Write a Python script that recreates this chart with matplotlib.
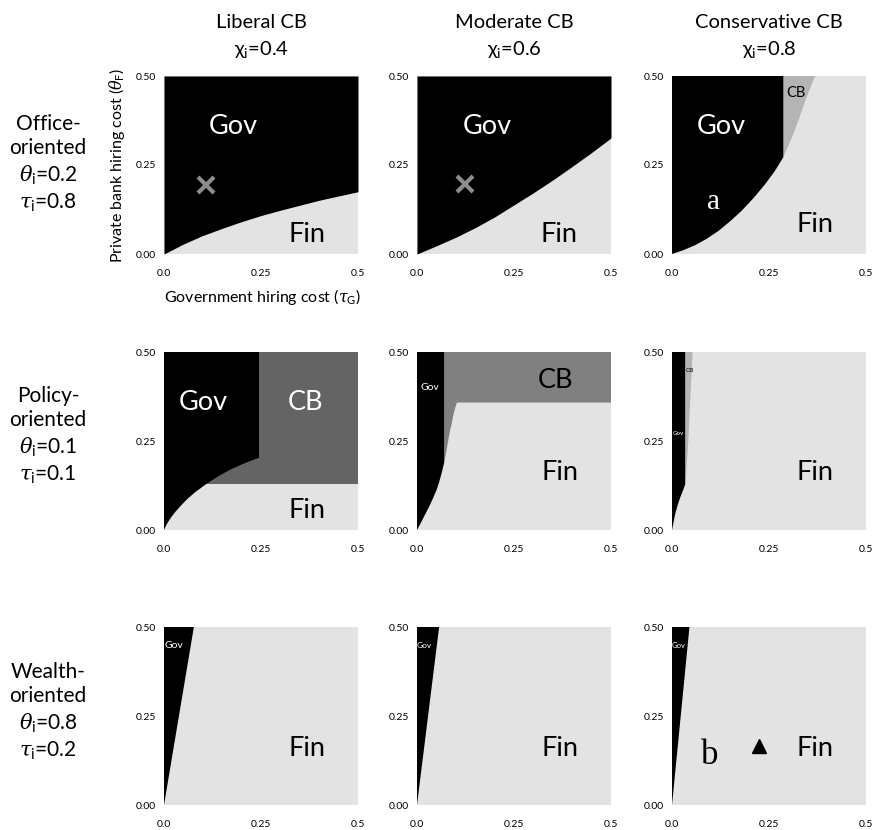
import numpy as np
import matplotlib.pyplot as plt

plt.rcParams['font.family'] = ['Lato', 'DejaVu Sans']
plt.rcParams['mathtext.fontset'] = 'custom'
plt.rcParams['mathtext.rm'] = 'Lato'
plt.rcParams['mathtext.it'] = 'DejaVu Serif:italic'

# column / row descriptors
col_titles = ["Liberal CB", "Moderate CB", "Conservative CB"]
chi_vals = ["0.4", "0.6", "0.8"]
row_names = ["Office-\noriented", "Policy-\noriented", "Wealth-\noriented"]
theta_vals = ["0.2", "0.1", "0.8"]
tau_vals = ["0.8", "0.1", "0.2"]

# boundary curves (tau_G, theta_F)
# row 1: office-oriented
off_lib_x = [0, 0.025, 0.05, 0.1, 0.15, 0.2, 0.25, 0.3, 0.35, 0.4, 0.45, 0.5]
off_lib_y = [0, 0.014, 0.028, 0.052, 0.072, 0.091, 0.108, 0.123, 0.137, 0.151, 0.163, 0.175]
off_mod_x = [0, 0.05, 0.1, 0.15, 0.2, 0.25, 0.3, 0.35, 0.4, 0.45, 0.5]
off_mod_y = [0, 0.023, 0.047, 0.074, 0.104, 0.138, 0.172, 0.208, 0.246, 0.285, 0.326]
off_con_gov_x = [0, 0.03, 0.06, 0.09, 0.12, 0.15, 0.18, 0.21, 0.24, 0.265, 0.287]
off_con_gov_y = [0, 0.011, 0.025, 0.043, 0.065, 0.092, 0.122, 0.157, 0.196, 0.233, 0.272]
off_con_cb_x = [0.287, 0.3, 0.313, 0.325, 0.338, 0.352, 0.369]
off_con_cb_y = [0.272, 0.304, 0.338, 0.373, 0.413, 0.455, 0.5]
# row 2: policy-oriented
pol_lib_gov_x = [0, 0.005, 0.012, 0.02, 0.03, 0.045, 0.06, 0.08, 0.11, 0.14, 0.17, 0.2, 0.225, 0.245]
pol_lib_gov_y = [0, 0.012, 0.025, 0.038, 0.052, 0.07, 0.087, 0.106, 0.13, 0.151, 0.169, 0.184, 0.195, 0.203]
pol_lib_fin_top = 0.13
pol_mod_gov_x = [0, 0.01, 0.021, 0.032, 0.042, 0.051, 0.058, 0.064, 0.07]
pol_mod_gov_y = [0, 0.02, 0.044, 0.067, 0.091, 0.114, 0.138, 0.162, 0.189]
pol_mod_cb_x = [0.07, 0.074, 0.077, 0.081, 0.085, 0.09, 0.094, 0.099, 0.103]
pol_mod_cb_y = [0.189, 0.21, 0.23, 0.254, 0.278, 0.302, 0.325, 0.345, 0.358]
pol_mod_fin_top = 0.358
pol_con_gov_x = [0, 0.004, 0.008, 0.014, 0.021, 0.028, 0.034]
pol_con_gov_y = [0, 0.022, 0.044, 0.068, 0.091, 0.11, 0.128]
pol_con_cb_x = [0.034, 0.038, 0.042, 0.045, 0.048, 0.051, 0.053]
pol_con_cb_y = [0.128, 0.18, 0.25, 0.32, 0.39, 0.45, 0.5]
# row 3: wealth-oriented, Gov wedge reaches these tau_G at the top
wea_gov_top = [0.077, 0.057, 0.045]

# example parameter points
cross_pts = [(0.108, 0.195), (0.124, 0.196)]
tri_pt = (0.225, 0.166)

GOV = 'black'
FIN = '#e3e3e3'
CB_DARK = '#646464'
CB_MID = '#808080'
CB_LIGHT = '#b4b4b4'
MARK = '#8c8c8c'
BIG = 19.5

W, H = 876, 830
fig = plt.figure(figsize=(W / 100, H / 100), dpi=100)

lefts = [164, 417, 672]
tops = [76, 352, 627]
aw, ah = 194, 178


def make_ax(r, c):
    ax = fig.add_axes([lefts[c] / W, (H - tops[r] - ah) / H, aw / W, ah / H])
    ax.set_xlim(0, 0.5)
    ax.set_ylim(0, 0.5)
    ax.set_facecolor(FIN)
    ax.set_xticks([0, 0.25, 0.5])
    ax.set_xticklabels(['0.0', '0.25', '0.5'])
    ax.set_yticks([0, 0.25, 0.5])
    ax.set_yticklabels(['0.00', '0.25', '0.50'])
    ax.tick_params(axis='x', length=0, labelsize=7.5, pad=11)
    ax.tick_params(axis='y', length=0, labelsize=7.5, pad=6)
    for s in ax.spines.values():
        s.set_visible(False)
    return ax


def gov_poly(ax, xs, ys):
    px = list(xs) + [xs[-1], 0]
    py = list(ys) + [0.5, 0.5]
    ax.fill(px, py, color=GOV, lw=0)


def label(ax, x, y, s, size=BIG, color='black', **kw):
    ax.text(x, y, s, fontsize=size, color=color, ha='center', va='center', **kw)


axes = [[make_ax(r, c) for c in range(3)] for r in range(3)]

# --- office-oriented ---
ax = axes[0][0]
ax.fill_between(off_lib_x, off_lib_y, 0.5, color=GOV, lw=0)
ax.plot(*cross_pts[0], marker='x', ms=11, mew=3, color=MARK)
label(ax, 0.178, 0.357, "Gov", color='white')
label(ax, 0.368, 0.056, "Fin")

ax = axes[0][1]
ax.fill_between(off_mod_x, off_mod_y, 0.5, color=GOV, lw=0)
ax.plot(*cross_pts[1], marker='x', ms=11, mew=3, color=MARK)
label(ax, 0.18, 0.357, "Gov", color='white')
label(ax, 0.367, 0.055, "Fin")

ax = axes[0][2]
ax.fill(off_con_cb_x + [off_con_cb_x[0]], off_con_cb_y + [0.5], color=CB_LIGHT, lw=0)
gov_poly(ax, off_con_gov_x, off_con_gov_y)
label(ax, 0.32, 0.452, "CB", size=10.5)
label(ax, 0.128, 0.357, "Gov", color='white')
label(ax, 0.107, 0.145, "a", size=21, color='white', family='Liberation Serif')
label(ax, 0.369, 0.082, "Fin")

# --- policy-oriented ---
ax = axes[1][0]
ax.fill_between([0, 0.5], pol_lib_fin_top, 0.5, color=CB_DARK, lw=0)
gov_poly(ax, pol_lib_gov_x, pol_lib_gov_y)
label(ax, 0.101, 0.357, "Gov", color='white')
label(ax, 0.366, 0.357, "CB", color='white')
label(ax, 0.368, 0.055, "Fin")

ax = axes[1][1]
ax.fill(pol_mod_cb_x + [0.5, 0.5, pol_mod_cb_x[0]],
        pol_mod_cb_y + [pol_mod_fin_top, 0.5, 0.5], color=CB_MID, lw=0)
gov_poly(ax, pol_mod_gov_x, pol_mod_gov_y)
label(ax, 0.034, 0.40, "Gov", size=7.5, color='white')
label(ax, 0.358, 0.421, "CB")
label(ax, 0.369, 0.161, "Fin")

ax = axes[1][2]
ax.fill(pol_con_cb_x + [pol_con_cb_x[0]], pol_con_cb_y + [0.5], color=CB_LIGHT, lw=0)
gov_poly(ax, pol_con_gov_x, pol_con_gov_y)
label(ax, 0.046, 0.449, "CB", size=4.5)
label(ax, 0.016, 0.27, "Gov", size=4.5, color='white')
label(ax, 0.369, 0.161, "Fin")

# --- wealth-oriented ---
gov_sizes = [7.5, 6, 5.5]
for c in range(3):
    ax = axes[2][c]
    gov_poly(ax, [0, wea_gov_top[c]], [0, 0.5])
    label(ax, 0.025 if c == 0 else 0.018, 0.447, "Gov", size=gov_sizes[c], color='white')
    label(ax, 0.368, 0.158, "Fin")

ax = axes[2][2]
ax.plot(*tri_pt, marker='^', ms=10, color='black')
label(ax, 0.098, 0.138, "b", size=25, family='Liberation Serif')

# titles and row headers
for c in range(3):
    xc = (lefts[c] + aw / 2) / W
    fig.text(xc, (H - 22) / H, col_titles[c], fontsize=14.5, ha='center', va='center')
    fig.text(xc, (H - 50) / H, "χ$_\\mathrm{i}$=" + chi_vals[c], fontsize=14.5,
             ha='center', va='center')

row_centers = [164, 436, 712]
for r in range(3):
    txt = (row_names[r] + "\n" + r"$\theta_\mathrm{i}$=" + theta_vals[r] + "\n"
           + r"$\tau_\mathrm{i}$=" + tau_vals[r])
    fig.text(48 / W, (H - row_centers[r]) / H, txt, fontsize=15, ha='center',
             va='center', linespacing=1.3)

fig.text(117 / W, (H - 165) / H, r"Private bank hiring cost ($\theta_\mathrm{F}$)",
         fontsize=11.5, rotation=90, ha='center', va='center')
fig.text(263 / W, (H - 297) / H, r"Government hiring cost ($\tau_\mathrm{G}$)",
         fontsize=11.5, ha='center', va='center')

fig.savefig('out.png', dpi=100)
